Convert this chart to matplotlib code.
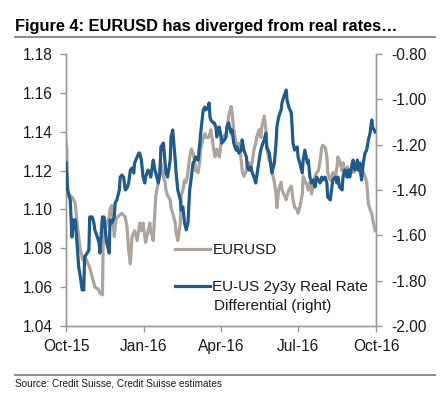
import pandas as pd
import matplotlib
matplotlib.use("Agg")
import matplotlib.pyplot as plt

plt.rcParams['font.family'] = ['Liberation Sans', 'DejaVu Sans']

# EURUSD (left axis), days counted from 1 Oct 2015
eur_days = [0, 1, 2, 5, 8, 11, 13, 15, 17, 20, 22, 26, 28, 31, 33, 34, 38, 40, 43, 44,
            46, 48, 51, 52, 54, 57, 59, 63, 66, 70, 72, 74, 76, 78, 81, 84, 87, 89, 91, 93,
            94, 97, 99, 100, 103, 105, 106, 109, 111, 112, 115, 117, 118, 120, 123, 124, 126, 129, 130, 132,
            135, 136, 138, 140, 142, 144, 146, 148, 150, 152, 153, 156, 158, 159, 162, 164, 165, 168, 170, 171,
            174, 176, 178, 181, 183, 184, 189, 190, 192, 195, 196, 198, 201, 202, 204, 207, 208, 210, 213, 214,
            216, 218, 220, 222, 224, 225, 228, 230, 231, 234, 236, 237, 240, 242, 243, 246, 248, 249, 251, 254,
            255, 257, 260, 261, 263, 266, 268, 270, 273, 274, 276, 279, 280, 282, 285, 286, 288, 290, 292, 294,
            296, 298, 300, 302, 303, 306, 308, 309, 312, 314, 315, 318, 320, 321, 323, 326, 327, 329, 332, 333,
            335, 338, 339, 341, 344, 345, 347, 349, 351, 353, 355, 357, 359, 361, 362, 365]
eurusd = [1.135, 1.131, 1.107, 1.107, 1.106, 1.103, 1.093, 1.086, 1.079, 1.074, 1.076, 1.072, 1.070, 1.065, 1.062, 1.060, 1.059, 1.057, 1.056, 1.086,
          1.089, 1.093, 1.096, 1.100, 1.102, 1.086, 1.095, 1.097, 1.098, 1.096, 1.091, 1.079, 1.072, 1.086, 1.089, 1.084, 1.093, 1.089, 1.093, 1.086,
          1.083, 1.089, 1.093, 1.089, 1.084, 1.100, 1.107, 1.114, 1.123, 1.124, 1.117, 1.114, 1.110, 1.107, 1.105, 1.101, 1.098, 1.093, 1.088, 1.084,
          1.093, 1.107, 1.110, 1.115, 1.114, 1.119, 1.127, 1.131, 1.129, 1.125, 1.120, 1.119, 1.125, 1.131, 1.137, 1.139, 1.137, 1.137, 1.139, 1.141,
          1.132, 1.127, 1.131, 1.127, 1.134, 1.137, 1.139, 1.142, 1.148, 1.153, 1.150, 1.141, 1.134, 1.131, 1.134, 1.125, 1.120, 1.117, 1.120, 1.122,
          1.124, 1.120, 1.125, 1.131, 1.134, 1.137, 1.141, 1.137, 1.142, 1.148, 1.141, 1.131, 1.125, 1.124, 1.120, 1.114, 1.108, 1.101, 1.110, 1.114,
          1.110, 1.108, 1.105, 1.107, 1.110, 1.112, 1.105, 1.101, 1.100, 1.098, 1.101, 1.108, 1.117, 1.115, 1.112, 1.110, 1.114, 1.108, 1.114, 1.117,
          1.119, 1.120, 1.125, 1.132, 1.133, 1.132, 1.127, 1.119, 1.115, 1.117, 1.119, 1.117, 1.122, 1.127, 1.125, 1.120, 1.124, 1.117, 1.122, 1.119,
          1.120, 1.122, 1.119, 1.120, 1.124, 1.122, 1.119, 1.117, 1.119, 1.117, 1.114, 1.103, 1.100, 1.098, 1.095, 1.089]

# EU-US 2y3y real rate differential (right axis)
rr_days = [0, 2, 5, 7, 9, 11, 13, 15, 17, 19, 21, 22, 25, 27, 28, 31, 33, 34, 37, 39,
           40, 43, 45, 46, 48, 51, 52, 54, 57, 58, 60, 63, 64, 66, 68, 70, 72, 74, 76, 78,
           80, 81, 84, 86, 87, 89, 91, 93, 94, 97, 99, 100, 103, 105, 106, 109, 111, 112, 115, 117,
           118, 120, 123, 124, 126, 129, 130, 132, 135, 136, 138, 140, 142, 144, 146, 148, 150, 152, 153, 156,
           158, 159, 162, 164, 165, 168, 169, 170, 171, 174, 175, 177, 178, 181, 183, 184, 187, 189, 190, 192,
           195, 196, 198, 201, 202, 204, 207, 208, 210, 213, 214, 216, 218, 220, 222, 224, 225, 228, 230, 231,
           234, 236, 237, 240, 242, 243, 246, 248, 249, 251, 254, 255, 257, 260, 261, 263, 266, 267, 268, 270,
           273, 274, 276, 279, 280, 282, 285, 286, 288, 290, 292, 294, 296, 298, 300, 302, 303, 306, 308, 309,
           312, 314, 315, 318, 320, 321, 323, 326, 327, 329, 332, 333, 335, 338, 339, 341, 344, 345, 347, 349,
           351, 353, 355, 357, 359, 361, 362, 365]
real_rate = [-1.281, -1.400, -1.444, -1.607, -1.532, -1.532, -1.634, -1.740, -1.784, -1.841, -1.841, -1.696, -1.678, -1.665, -1.519, -1.519, -1.546, -1.576, -1.607, -1.634,
             -1.678, -1.519, -1.519, -1.563, -1.634, -1.678, -1.532, -1.546, -1.519, -1.457, -1.444, -1.400, -1.343, -1.334, -1.343, -1.400, -1.391, -1.369, -1.312, -1.303,
             -1.325, -1.281, -1.254, -1.237, -1.237, -1.268, -1.343, -1.369, -1.343, -1.312, -1.325, -1.343, -1.268, -1.312, -1.325, -1.369, -1.325, -1.210, -1.193, -1.281,
             -1.325, -1.343, -1.268, -1.166, -1.135, -1.268, -1.325, -1.400, -1.444, -1.488, -1.475, -1.546, -1.576, -1.546, -1.400, -1.343, -1.281, -1.268, -1.254, -1.268,
             -1.193, -1.149, -1.047, -1.034, -1.047, -1.034, -1.016, -1.078, -1.091, -1.104, -1.104, -1.122, -1.166, -1.122, -1.166, -1.193, -1.179, -1.166, -1.122, -1.104,
             -1.149, -1.135, -1.193, -1.224, -1.210, -1.237, -1.224, -1.179, -1.224, -1.254, -1.298, -1.312, -1.298, -1.325, -1.343, -1.369, -1.343, -1.268, -1.224, -1.210,
             -1.179, -1.149, -1.210, -1.237, -1.298, -1.325, -1.281, -1.193, -1.122, -1.078, -1.047, -1.016, -0.990, -0.959, -1.003, -1.034, -1.060, -1.122, -1.193, -1.224,
             -1.210, -1.254, -1.281, -1.325, -1.268, -1.224, -1.281, -1.268, -1.343, -1.369, -1.356, -1.387, -1.343, -1.356, -1.369, -1.343, -1.356, -1.343, -1.369, -1.431,
             -1.444, -1.387, -1.356, -1.343, -1.369, -1.343, -1.387, -1.400, -1.343, -1.312, -1.343, -1.312, -1.343, -1.281, -1.268, -1.312, -1.268, -1.312, -1.281, -1.356,
             -1.281, -1.237, -1.224, -1.179, -1.149, -1.091, -1.122, -1.144]

tick_dates = ['2015-10-01', '2016-01-01', '2016-04-01', '2016-07-01', '2016-10-01']
tick_labels = ['Oct-15', 'Jan-16', 'Apr-16', 'Jul-16', 'Oct-16']
left_ticks = [1.04, 1.06, 1.08, 1.10, 1.12, 1.14, 1.16, 1.18]
right_ticks = [-2.0, -1.8, -1.6, -1.4, -1.2, -1.0, -0.8]

start = pd.Timestamp('2015-10-01')
eur_x = start + pd.to_timedelta(eur_days, unit='D')
rr_x = start + pd.to_timedelta(rr_days, unit='D')

GREY = '#aca49d'
BLUE = '#215b8b'
AXC = '#9a9a9a'
TXT = '#1a1a1a'

fig = plt.figure(figsize=(4.48, 3.98), dpi=100)
ax = fig.add_axes([66/448, 1 - 326/398, 310/448, 272/398])
ax2 = ax.twinx()

l1, = ax.plot(eur_x, eurusd, color=GREY, lw=2.3, zorder=2)
l2, = ax2.plot(rr_x, real_rate, color=BLUE, lw=2.3, zorder=3)

ax.set_ylim(1.04, 1.18)
ax.set_yticks(left_ticks)
ax.set_yticklabels([f'{t:.2f}' for t in left_ticks])
ax2.set_ylim(-2.0, -0.8)
ax2.set_yticks(right_ticks)
ax2.set_yticklabels([f'{t:.2f}' for t in right_ticks])

ax.set_xlim(pd.Timestamp('2015-10-01'), pd.Timestamp('2016-10-01'))
ax.set_xticks(pd.to_datetime(tick_dates))
ax.set_xticklabels(tick_labels)

for a in (ax, ax2):
    a.spines['top'].set_visible(False)
    for s in ('left', 'right', 'bottom'):
        a.spines[s].set_color(AXC)
        a.spines[s].set_linewidth(1.0)
    a.tick_params(colors=AXC, labelcolor=TXT, labelsize=11.2, length=4.5, width=1.0)
ax.tick_params(axis='y', pad=5)
ax2.tick_params(axis='y', pad=6.5)
ax.tick_params(axis='x', pad=5)
ax.patch.set_visible(False)

# legend: handle sits on the first line of the second label, second line added below
leg = ax2.legend([l1, l2], ['EURUSD', 'EU-US 2y3y Real Rate'],
                 loc='upper left', bbox_to_anchor=(175/448, 1 - 243/398),
                 bbox_transform=fig.transFigure, frameon=False, fontsize=11,
                 handlelength=2.3, handletextpad=0.15, labelspacing=1.5,
                 borderpad=0, borderaxespad=0)
for t in leg.get_texts():
    t.set_color(TXT)
fig.text(214/448, 1 - 306/398, 'Differential (right)', fontsize=11, color=TXT,
         va='center', ha='left')

# title with rule underneath, source line at bottom
fig.text(15/448, 1 - 27/398, 'Figure 4: EURUSD has diverged from real rates\u2026',
         fontsize=11.8, fontweight='bold', color='black', va='center', ha='left')
fig.add_artist(plt.Line2D([15/448, 435/448], [1 - 37/398, 1 - 37/398],
                          transform=fig.transFigure, color='#8c8c8c', lw=1.4))
fig.add_artist(plt.Line2D([15/448, 435/448], [1 - 375/398, 1 - 375/398],
                          transform=fig.transFigure, color='#8c8c8c', lw=1.4))
fig.text(15/448, 1 - 384/398, 'Source: Credit Suisse, Credit Suisse estimates',
         fontsize=7.2, color=TXT, va='center', ha='left')

plt.savefig('out.png', dpi=100)
